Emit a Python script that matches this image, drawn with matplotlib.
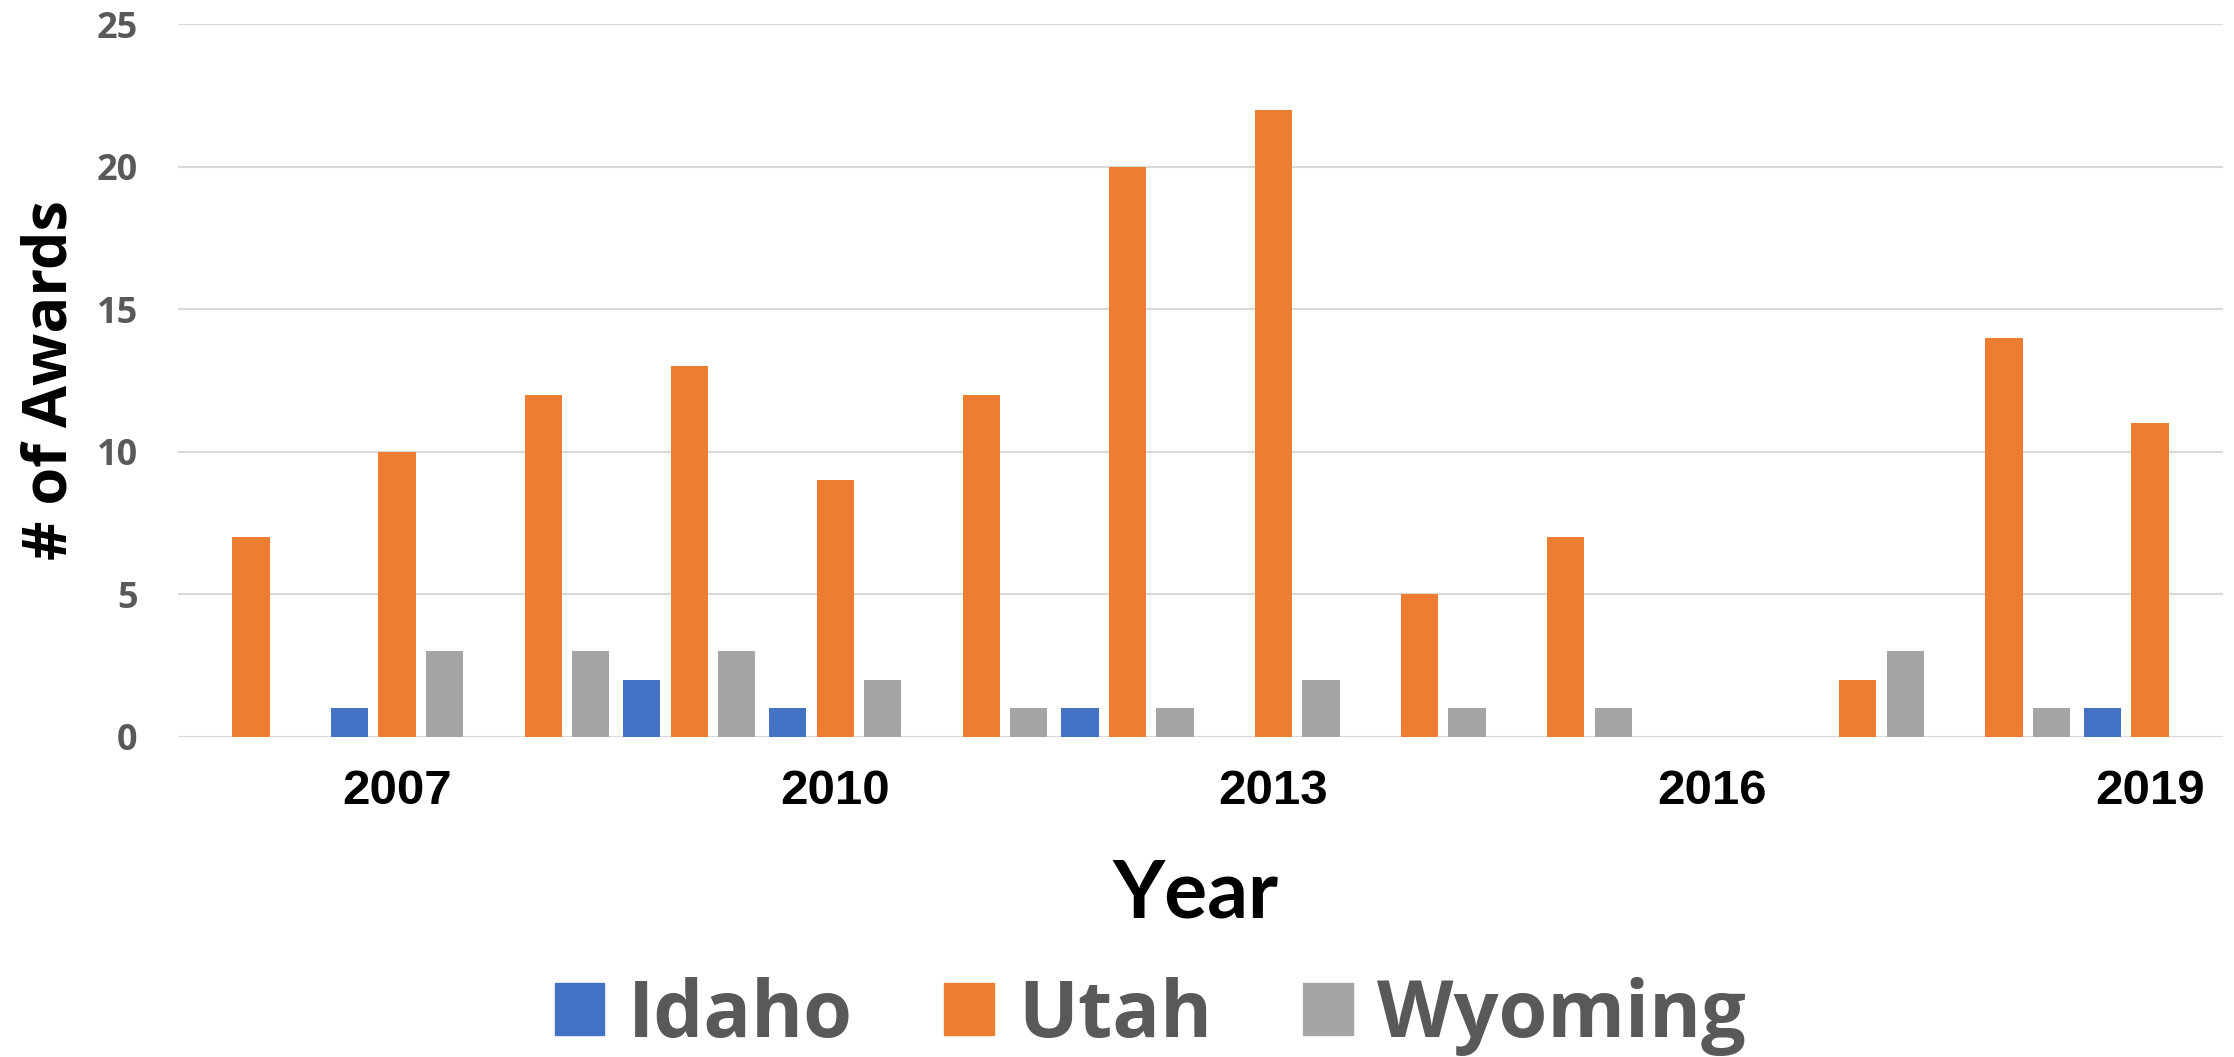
import numpy as np
import matplotlib.pyplot as plt
from matplotlib.patches import Patch

# Awards per year by state
years = np.arange(2006, 2020)
idaho = [0, 1, 0, 2, 1, 0, 1, 0, 0, 0, 0, 0, 0, 1]
utah = [7, 10, 12, 13, 9, 12, 20, 22, 5, 7, 0, 2, 14, 11]
wyoming = [0, 3, 3, 3, 2, 1, 1, 2, 1, 1, 0, 3, 1, 0]
shown_years = [2007, 2010, 2013, 2016, 2019]

states = ['Idaho', 'Utah', 'Wyoming']
colors = ['#4472C4', '#ED7D31', '#A5A5A5']

plt.rcParams['font.family'] = ['Open Sans', 'DejaVu Sans']

fig = plt.figure(figsize=(22.34, 10.57), dpi=100)
ax = fig.add_axes([178 / 2234, 1 - 737 / 1057, (2223 - 178) / 2234, (737 - 24) / 1057])

spacing = 0.325
width = 0.255
for i, (vals, c) in enumerate(zip([idaho, utah, wyoming], colors)):
    ax.bar(years + (i - 1) * spacing, vals, width=width, color=c, zorder=3)

ax.set_xlim(years[0] - 0.5, years[-1] + 0.5)
ax.set_ylim(0, 25)
ax.set_yticks(range(0, 26, 5))
ax.yaxis.grid(True, color='#D9D9D9', linewidth=1.5, zorder=0)
for s in ax.spines.values():
    s.set_visible(False)
ax.tick_params(axis='both', length=0)
ax.tick_params(axis='y', pad=29, labelsize=26, labelcolor='#595959')
for t in ax.get_yticklabels():
    t.set_fontweight('bold')

ax.set_xticks(shown_years)
ax.set_xticklabels([str(y) for y in shown_years], fontsize=35.5, fontweight='bold',
                   family='Liberation Sans', color='black')
ax.tick_params(axis='x', pad=23)

fig.text(51 / 2234, 1 - 380 / 1057, '# of Awards', rotation=90, ha='center', va='center',
         fontsize=44, fontweight='bold', color='black')
fig.text(1195 / 2234, 1 - 895 / 1057, 'Year', ha='center', va='center',
         fontsize=58, fontweight='bold', color='black', family='Lato')

handles = [Patch(color=c, label=s) for s, c in zip(states, colors)]
leg = fig.legend(handles=handles, loc='center', bbox_to_anchor=(1150 / 2234, 1 - 1016 / 1057),
                 ncol=3, frameon=False, handlelength=0.63, handleheight=0.63,
                 handletextpad=0.3, columnspacing=1.15, borderpad=0,
                 prop={'size': 57, 'weight': 'bold'})
for t in leg.get_texts():
    t.set_color('#595959')

fig.savefig('out.png', dpi=100)
